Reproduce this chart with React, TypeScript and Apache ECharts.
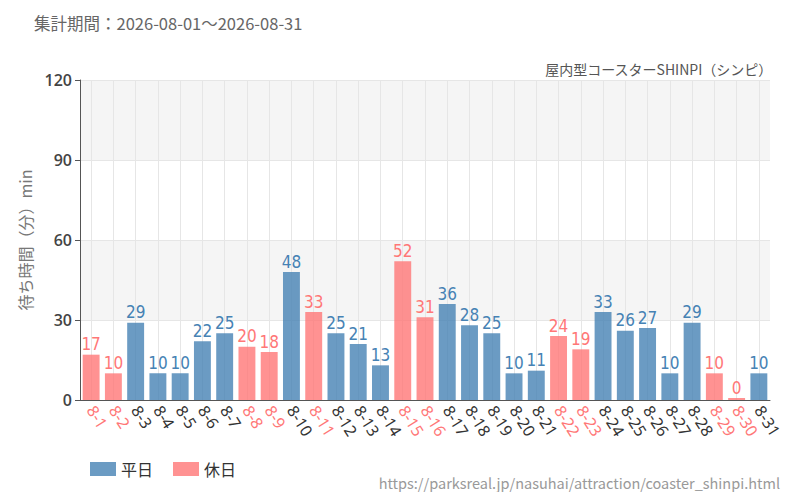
import { useEffect, useRef } from "react";
import * as echarts from "echarts";

const days = [
  "8-1", "8-2", "8-3", "8-4", "8-5", "8-6", "8-7", "8-8", "8-9", "8-10",
  "8-11", "8-12", "8-13", "8-14", "8-15", "8-16", "8-17", "8-18", "8-19", "8-20",
  "8-21", "8-22", "8-23", "8-24", "8-25", "8-26", "8-27", "8-28", "8-29", "8-30", "8-31",
];
const waits = [
  17, 10, 29, 10, 10, 22, 25, 20, 18, 48, 33, 25, 21, 13, 52, 31, 36, 28, 25, 10,
  11, 24, 19, 33, 26, 27, 10, 29, 10, 0, 10,
];
const holidays = ["8-1", "8-2", "8-8", "8-9", "8-11", "8-15", "8-16", "8-22", "8-23", "8-29", "8-30"];
const yTicks = { min: 0, max: 120, interval: 30 };

const BLUE = "#4682b4";
const PINK = "#ff7777";
const JP = '"Noto Sans CJK JP", "Noto Sans", sans-serif';
const NARROW = '"Liberation Sans Narrow", "Arial Narrow", "DejaVu Sans Condensed", "Roboto", sans-serif';

export default function App() {
  const ref = useRef<HTMLDivElement>(null);

  useEffect(() => {
    if (!ref.current) return;
    const chart = echarts.init(ref.current, undefined, { renderer: "svg" });
    const isHol = (d: string) => holidays.includes(d);

    const barLabel = (color: string) => ({
      show: true,
      position: "top" as const,
      distance: 2,
      color,
      fontFamily: NARROW,
      fontSize: 17,
    });

    chart.setOption({
      animation: false,
      textStyle: { fontFamily: JP },
      title: [
        {
          text: "集計期間：2026-08-01～2026-08-31",
          left: 29,
          top: 10,
          textStyle: { fontSize: 16.5, fontWeight: "normal", color: "#666", fontFamily: JP },
        },
        {
          text: "屋内型コースターSHINPI（シンピ）",
          right: 22,
          top: 57,
          textStyle: { fontSize: 14, fontWeight: "normal", color: "#555", fontFamily: JP },
        },
        {
          text: "https://parksreal.jp/nasuhai/attraction/coaster_shinpi.html",
          right: 15,
          top: 470,
          textStyle: { fontSize: 14.5, fontWeight: "normal", color: "#999", fontFamily: JP },
        },
      ],
      legend: {
        left: 85,
        top: 456,
        itemWidth: 26,
        itemHeight: 14,
        itemGap: 20,
        icon: "rect",
        textStyle: { fontSize: 16, color: "#333", fontFamily: JP },
        data: ["平日", "休日"],
      },
      grid: { left: 80, right: 30, top: 80, bottom: 100 },
      xAxis: {
        type: "category",
        data: days.map((d) => ({
          value: d,
          textStyle: { color: isHol(d) ? PINK : "#333" },
        })),
        axisLine: { lineStyle: { color: "#555" } },
        axisTick: { alignWithLabel: true, lineStyle: { color: "#555" } },
        splitLine: { show: true, alignWithLabel: true, lineStyle: { color: "#e6e6e6" } },
        axisLabel: {
          interval: 0,
          rotate: -58,
          fontSize: 16,
          margin: 7,
          fontFamily: '"Noto Sans", "Open Sans", sans-serif',
        },
      },
      yAxis: {
        type: "value",
        min: yTicks.min,
        max: yTicks.max,
        interval: yTicks.interval,
        name: "待ち時間（分）min",
        nameLocation: "middle",
        nameGap: 47,
        nameTextStyle: { fontSize: 16, color: "#777", fontFamily: JP },
        axisLine: { show: true, lineStyle: { color: "#555" } },
        axisTick: { show: true, lineStyle: { color: "#555" } },
        axisLabel: {
          fontSize: 16,
          color: "#444",
          fontWeight: 600,
          fontFamily: '"Open Sans", "Noto Sans", sans-serif',
        },
        splitLine: { lineStyle: { color: "#e6e6e6" } },
        splitArea: { show: true, areaStyle: { color: ["#ffffff", "#f5f5f5"] } },
      },
      series: [
        {
          name: "平日",
          type: "bar",
          barWidth: "76%",
          barGap: "-100%",
          itemStyle: { color: "rgba(70,130,180,0.8)" },
          label: barLabel(BLUE),
          data: days.map((d, i) => (isHol(d) ? null : waits[i])),
        },
        {
          name: "休日",
          type: "bar",
          barWidth: "76%",
          barGap: "-100%",
          barMinHeight: 2,
          itemStyle: { color: "rgba(255,119,119,0.8)" },
          label: barLabel(PINK),
          data: days.map((d, i) => (isHol(d) ? waits[i] : null)),
        },
      ],
    });

    return () => chart.dispose();
  }, []);

  return <div ref={ref} style={{ width: 800, height: 500, margin: -8 }} />;
}
